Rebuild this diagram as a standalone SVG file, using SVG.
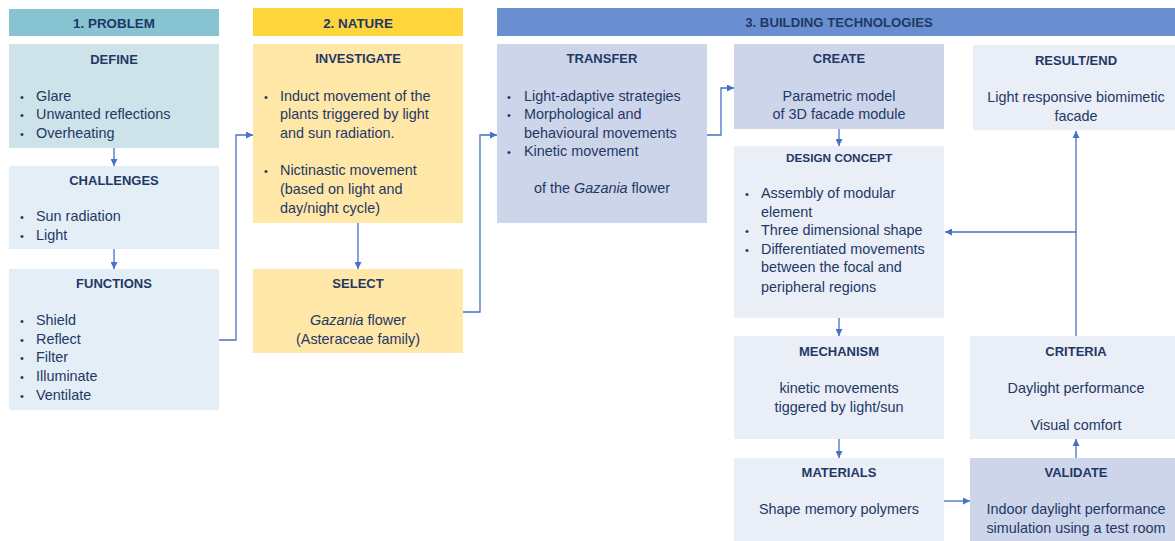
<svg xmlns="http://www.w3.org/2000/svg" width="1175" height="541" viewBox="0 0 1175 541">
<style>
text{font-family:"Liberation Sans",Arial,sans-serif;fill:#1f3864;font-size:14.4px}
.h{font-weight:bold;text-anchor:middle;font-size:13px}
.c{text-anchor:middle}
.b{font-size:11px}
.conn{fill:none;stroke:#4472c4;stroke-width:1.3}
</style>
<defs>
<marker id="ar" viewBox="0 0 10 10" refX="10" refY="5" markerWidth="7" markerHeight="7" orient="auto" markerUnits="userSpaceOnUse"><path d="M0,0L10,5L0,10z" fill="#4472c4"/></marker>
</defs>
<rect width="1175" height="541" fill="#fff"/>
<g id="header1"><rect x="9" y="9" width="210" height="27" fill="#88c3d2"/><text class="h" x="114" y="28" style="font-size:13.4px">1. PROBLEM</text></g>
<g id="header2"><rect x="253" y="8" width="210" height="28" fill="#fed53c"/><text class="h" x="358" y="28" style="font-size:13.4px">2. NATURE</text></g>
<g id="header3"><rect x="497" y="8" width="678" height="28" fill="#6a8fd1"/><text class="h" x="839" y="27" style="font-size:13.2px">3. BUILDING TECHNOLOGIES</text></g>

<g id="define"><rect x="9" y="44" width="210" height="104" fill="#cde3e9"/>
<text class="h" x="114" y="64">DEFINE</text>
<text x="20" y="101" class="b">•</text><text x="36" y="101">Glare</text>
<text x="20" y="119" class="b">•</text><text x="36" y="119">Unwanted reflections</text>
<text x="20" y="138" class="b">•</text><text x="36" y="138">Overheating</text></g>

<g id="challenges"><rect x="9" y="166" width="210" height="83" fill="#e3eef6"/>
<text class="h" x="114" y="185">CHALLENGES</text>
<text x="20" y="221" class="b">•</text><text x="36" y="221">Sun radiation</text>
<text x="20" y="240" class="b">•</text><text x="36" y="240">Light</text></g>

<g id="functions"><rect x="9" y="269" width="210" height="141" fill="#e3eef6"/>
<text class="h" x="114" y="288">FUNCTIONS</text>
<text x="20" y="325" class="b">•</text><text x="36" y="325">Shield</text>
<text x="20" y="344" class="b">•</text><text x="36" y="344">Reflect</text>
<text x="20" y="362" class="b">•</text><text x="36" y="362">Filter</text>
<text x="20" y="381" class="b">•</text><text x="36" y="381">Illuminate</text>
<text x="20" y="400" class="b">•</text><text x="36" y="400">Ventilate</text></g>

<g id="investigate"><rect x="253" y="44" width="210" height="179" fill="#ffe7a8"/>
<text class="h" x="358" y="63">INVESTIGATE</text>
<text x="264" y="101" class="b">•</text><text x="280" y="101">Induct movement of the</text>
<text x="280" y="119">plants triggered by light</text>
<text x="280" y="138">and sun radiation.</text>
<text x="264" y="175" class="b">•</text><text x="280" y="175">Nictinastic movement</text>
<text x="280" y="194">(based on light and</text>
<text x="280" y="213">day/night cycle)</text></g>

<g id="select"><rect x="253" y="269" width="210" height="84" fill="#ffe7a8"/>
<text class="h" x="358" y="288">SELECT</text>
<text class="c" x="358" y="325"><tspan font-style="italic">Gazania</tspan> flower</text>
<text class="c" x="358" y="344">(Asteraceae family)</text></g>

<g id="transfer"><rect x="497" y="44" width="210" height="179" fill="#cdd5ea"/>
<text class="h" x="602" y="63">TRANSFER</text>
<text x="507" y="101" class="b">•</text><text x="524" y="101">Light-adaptive strategies</text>
<text x="507" y="119" class="b">•</text><text x="524" y="119">Morphological and</text>
<text x="524" y="138">behavioural movements</text>
<text x="507" y="156" class="b">•</text><text x="524" y="156">Kinetic movement</text>
<text class="c" x="602" y="193">of the <tspan font-style="italic">Gazania</tspan> flower</text></g>

<g id="create"><rect x="734" y="44" width="210" height="85" fill="#cdd5ea"/>
<text class="h" x="839" y="63">CREATE</text>
<text class="c" x="839" y="101">Parametric model</text>
<text class="c" x="839" y="119">of 3D facade module</text></g>

<g id="result"><rect x="973" y="45" width="202" height="85" fill="#e9eef7"/>
<text class="h" x="1076" y="65">RESULT/END</text>
<text class="c" x="1076" y="102">Light responsive biomimetic</text>
<text class="c" x="1076" y="121">facade</text></g>

<g id="design"><rect x="734" y="146" width="210" height="172" fill="#e9eef7"/>
<text class="h" x="839" y="162" style="font-size:11.8px">DESIGN CONCEPT</text>
<text x="745" y="198" class="b">•</text><text x="761" y="198">Assembly of modular</text>
<text x="761" y="217">element</text>
<text x="745" y="235" class="b">•</text><text x="761" y="235">Three dimensional shape</text>
<text x="745" y="254" class="b">•</text><text x="761" y="254">Differentiated movements</text>
<text x="761" y="272">between the focal and</text>
<text x="761" y="292">peripheral regions</text></g>

<g id="mechanism"><rect x="734" y="336" width="210" height="103" fill="#e9eef7"/>
<text class="h" x="839" y="356">MECHANISM</text>
<text class="c" x="839" y="393">kinetic movements</text>
<text class="c" x="839" y="412">tiggered by light/sun</text></g>

<g id="criteria"><rect x="970" y="336" width="205" height="103" fill="#e9eef7"/>
<text class="h" x="1076" y="356">CRITERIA</text>
<text class="c" x="1076" y="393">Daylight performance</text>
<text class="c" x="1076" y="430">Visual comfort</text></g>

<g id="materials"><rect x="734" y="458" width="210" height="83" fill="#e9eef7"/>
<text class="h" x="839" y="477">MATERIALS</text>
<text class="c" x="839" y="514">Shape memory polymers</text></g>

<g id="validate"><rect x="970" y="458" width="205" height="83" fill="#cdd5ea"/>
<text class="h" x="1076" y="477">VALIDATE</text>
<text class="c" x="1076" y="514">Indoor daylight performance</text>
<text class="c" x="1076" y="533">simulation using a test room</text></g>

<g id="connectors">
<path class="conn" d="M114,148V166" marker-end="url(#ar)"/>
<path class="conn" d="M114,249V269" marker-end="url(#ar)"/>
<path class="conn" d="M219,340H236V135H253" marker-end="url(#ar)"/>
<path class="conn" d="M358,223V269" marker-end="url(#ar)"/>
<path class="conn" d="M463,312H480V135H497" marker-end="url(#ar)"/>
<path class="conn" d="M707,135H721V88H734" marker-end="url(#ar)"/>
<path class="conn" d="M839,129V146" marker-end="url(#ar)"/>
<path class="conn" d="M839,318V336" marker-end="url(#ar)"/>
<path class="conn" d="M839,439V458" marker-end="url(#ar)"/>
<path class="conn" d="M944,501H970" marker-end="url(#ar)"/>
<path class="conn" d="M1076,458V439" marker-end="url(#ar)"/>
<path class="conn" d="M1076,336V131" marker-end="url(#ar)"/>
<path class="conn" d="M1076,232H945" marker-end="url(#ar)"/>
</g>
</svg>
